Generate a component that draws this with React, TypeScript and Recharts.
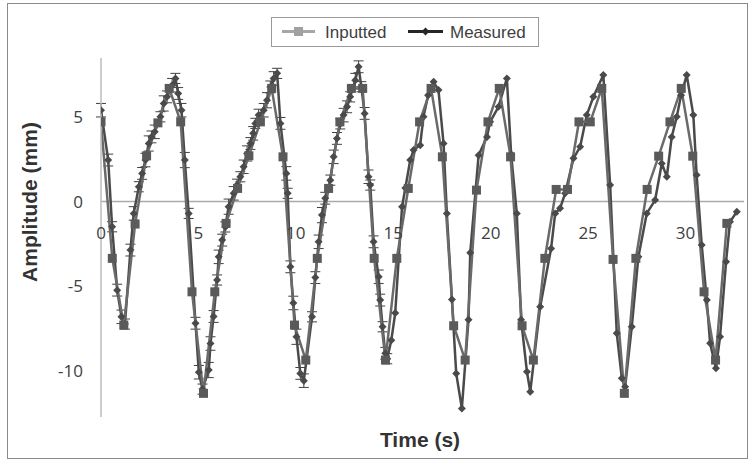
import React from 'react';
import { LineChart, Line, XAxis, YAxis, ReferenceLine, ReferenceDot, ErrorBar } from 'recharts';

// Inputted series (squares)
const inputTime = [0, 0.58, 1.17, 1.75, 2.34, 2.92, 3.5, 4.09, 4.67, 5.26, 5.84, 6.42, 7.01, 7.59, 8.18, 8.76, 9.34, 9.93, 10.51, 11.1, 11.68, 12.26, 12.85, 13.43, 14.02, 14.6, 15.18, 15.77, 16.35, 16.94, 17.52, 18.1, 18.69, 19.27, 19.86, 20.44, 21.02, 21.61, 22.19, 22.78, 23.36, 23.94, 24.53, 25.11, 25.7, 26.28, 26.86, 27.45, 28.03, 28.62, 29.2, 29.78, 30.37, 30.95, 31.54, 32.12];
const inputAmp = [4.72, -3.36, -7.31, -1.33, 2.71, 4.66, 6.7, 4.72, -5.34, -11.35, -5.34, -1.29, 0.78, 2.71, 4.72, 6.7, 2.65, -7.31, -9.38, -3.36, 0.78, 4.72, 6.7, 6.7, -3.36, -9.38, -3.36, 0.78, 4.72, 6.7, 2.65, -7.35, -9.38, 0.68, 4.72, 6.7, 2.65, -7.35, -9.38, -3.36, 0.72, 0.72, 4.72, 4.72, 6.7, -3.42, -11.35, -3.36, 0.72, 2.69, 4.72, 6.7, 2.69, -5.34, -9.38, -1.29];

// Measured series (diamonds)
const measTime = [0, 0.37, 0.57, 0.83, 1.05, 1.23, 1.51, 1.68, 1.94, 2.11, 2.28, 2.45, 2.59, 2.76, 3.05, 3.22, 3.39, 3.65, 3.82, 3.96, 4.13, 4.3, 4.5, 4.85, 5.02, 5.21, 5.53, 5.62, 5.78, 5.96, 6.04, 6.22, 6.38, 6.55, 6.81, 6.98, 7.15, 7.32, 7.5, 7.67, 7.81, 7.92, 8.09, 8.35, 8.52, 8.69, 8.86, 9.04, 9.21, 9.51, 9.58, 9.72, 9.87, 10.03, 10.23, 10.41, 10.83, 11.0, 11.17, 11.34, 11.51, 11.77, 11.94, 12.11, 12.28, 12.45, 12.63, 12.79, 13.05, 13.22, 13.36, 13.53, 13.73, 13.82, 13.99, 14.25, 14.33, 14.45, 14.59, 14.69, 14.9, 15.1, 15.45, 15.62, 15.87, 16.04, 16.38, 16.55, 16.79, 17.07, 17.32, 17.58, 17.75, 18.01, 18.23, 18.52, 18.86, 18.95, 19.38, 19.81, 19.97, 20.4, 20.83, 21.05, 21.34, 21.56, 21.86, 22.03, 22.54, 23.1, 23.31, 23.56, 23.82, 24.25, 24.59, 24.93, 25.27, 25.78, 26.13, 26.47, 26.73, 26.9, 27.24, 27.58, 28.01, 28.44, 28.78, 29.04, 29.29, 29.55, 29.77, 30.06, 30.4, 30.57, 30.83, 31.09, 31.26, 31.56, 31.77, 32.08, 32.28, 32.63];
const measAmp = [5.41, 2.46, -1.49, -5.24, -6.82, -7.25, -2.87, -0.7, 0.88, 1.67, 2.46, 3.44, 3.83, 4.13, 5.02, 5.81, 6.2, 6.89, 7.29, 6.4, 5.41, 2.46, -0.7, -7.2, -10.1, -11.1, -9.97, -8.4, -6.8, -4.64, -3.27, -2.28, -1.5, -0.3, 0.49, 0.98, 1.47, 2.06, 2.85, 3.44, 4.04, 4.63, 5.12, 5.41, 6.0, 6.79, 7.29, 7.59, 4.63, 1.67, 0.49, -3.86, -6.0, -8.0, -10.17, -10.6, -6.82, -4.5, -2.38, -0.8, 0.2, 1.27, 2.65, 3.74, 4.6, 5.12, 5.61, 6.2, 7.19, 7.98, 6.8, 5.22, 1.47, 0.98, -2.38, -4.45, -5.83, -7.41, -8.98, -9.3, -8.2, -6.6, -0.3, 0.8, 2.46, 3.05, 3.34, 5.02, 6.3, 7.09, 6.6, 3.44, -0.7, -5.79, -10.17, -12.24, -7.0, -3.03, 2.75, 3.83, 4.72, 5.61, 7.29, 2.8, -0.7, -7.0, -10.07, -11.25, -6.22, -2.77, -0.7, -0.4, 0.49, 2.56, 3.24, 5.12, 6.2, 7.49, 0.98, -7.8, -10.46, -10.96, -7.41, -3.27, -0.7, 0.09, 2.26, 1.47, 3.83, 5.02, 6.3, 7.49, 5.12, 1.57, -2.57, -5.83, -8.39, -9.87, -8.0, -3.56, -1.2, -0.6];
const measErr = [0.4, 0.35, 0.3, 0.35, 0.4, 0.3, 0.35, 0.4, 0.3, 0.35, 0.4, 0.45, 0.35, 0.4, 0.3, 0.45, 0.35, 0.4, 0.3, 0.35, 0.4, 0.45, 0.3, 0.35, 0.4, 0.3, 0.45, 0.4, 0.35, 0.3, 0.4, 0.35, 0.3, 0.45, 0.4, 0.35, 0.3, 0.4, 0.45, 0.35, 0.4, 0.3, 0.35, 0.4, 0.45, 0.35, 0.4, 0.3, 0.35, 0.4, 0.3, 0.35, 0.4, 0.45, 0.35, 0.4, 0.3, 0.35, 0.4, 0.45, 0.35, 0.3, 0.4, 0.35, 0.3, 0.4, 0.35, 0.3, 0.4, 0.35, 0.3, 0.35, 0.4, 0.3, 0.35, 0.4, 0.35, 0.3, 0.35, 0.3];

const yTicks = [-10, -5, 0, 5];
const xTickValues = [0, 5, 10, 15, 20, 25, 30];

const inputData = inputTime.map((t, i) => ({ t, v: inputAmp[i] }));
const measData = measTime.map((t, i) => ({ t, v: measAmp[i], e: measErr[i] }));

const SquareDot = (p: any) => (
  <rect key={`sq-${p.index}`} x={p.cx - 4.5} y={p.cy - 4.5} width={9} height={9} fill="#5a5a5a" />
);
const DiamondDot = (p: any) => (
  <path
    key={`dm-${p.index}`}
    d={`M${p.cx},${p.cy - 4} L${p.cx + 4},${p.cy} L${p.cx},${p.cy + 4} L${p.cx - 4},${p.cy} Z`}
    fill="#4a4a4a"
  />
);

const XLabel = (v: number) => (p: any) => (
  <text
    x={p.cx}
    y={p.cy + 37}
    textAnchor="middle"
    fontSize={17}
    fontFamily="'Open Sans', sans-serif"
    fill="#404040"
  >
    {v}
  </text>
);

export default function App() {
  return (
    <div style={{ position: 'fixed', left: 0, top: 0, width: 752, height: 461, background: '#fff' }}>
      <div
        style={{
          position: 'absolute',
          left: 7,
          top: 3,
          width: 741,
          height: 456,
          border: '1px solid #8a8a8a',
          boxSizing: 'border-box',
        }}
      />
      <div style={{ position: 'absolute', left: 0, top: 0 }}>
        <LineChart width={752} height={461} margin={{ top: 58, right: 8, bottom: 44, left: 0 }}>
          <XAxis type="number" dataKey="t" domain={[0, 33]} hide allowDataOverflow />
          <YAxis
            type="number"
            domain={[-12.75, 8.5]}
            ticks={yTicks}
            width={101}
            allowDataOverflow
            axisLine={{ stroke: '#bdbdbd', strokeWidth: 1.5 }}
            tickLine={false}
            tickSize={6}
            tickMargin={12}
            tick={{ fill: '#404040', fontSize: 17, fontFamily: "'Open Sans', sans-serif" }}
          />
          <ReferenceLine y={0} stroke="#aaaaaa" strokeWidth={1.5} />
          {xTickValues.map((v) => (
            <ReferenceDot key={`xl-${v}`} x={v} y={0} r={0} shape={XLabel(v)} />
          ))}
          <Line
            data={measData}
            dataKey="v"
            type="linear"
            stroke="#4a4a4a"
            strokeWidth={2.5}
            dot={DiamondDot}
            activeDot={false}
            isAnimationActive={false}
          >
            <ErrorBar dataKey="e" width={5} strokeWidth={1} stroke="#404040" direction="y" isAnimationActive={false} />
          </Line>
          <Line
            data={inputData}
            dataKey="v"
            type="linear"
            stroke="#6a6a6a"
            strokeWidth={2.5}
            dot={SquareDot}
            activeDot={false}
            isAnimationActive={false}
          />
        </LineChart>
      </div>
      <svg width={752} height={461} style={{ position: 'absolute', left: 0, top: 0, pointerEvents: 'none' }}>
        <text
          x={29}
          y={202}
          transform="rotate(-90, 29, 202)"
          textAnchor="middle"
          dominantBaseline="central"
          fontSize={21}
          fontWeight="bold"
          fontFamily="'Liberation Sans', Arial, sans-serif"
          fill="#333"
        >
          Amplitude (mm)
        </text>
        <text
          x={420}
          y={447}
          textAnchor="middle"
          fontSize={21}
          fontWeight="bold"
          fontFamily="'Liberation Sans', Arial, sans-serif"
          fill="#333"
        >
          Time (s)
        </text>
        <rect x={271.5} y={17.5} width={267} height={29} fill="#fff" stroke="#9a9a9a" strokeWidth={1} />
        <line x1={282} y1={31.5} x2={315} y2={31.5} stroke="#a6a6a6" strokeWidth={3} />
        <rect x={294} y={27} width={9} height={9} fill="#a0a0a0" />
        <text x={325} y={38} fontSize={17} fontFamily="'Liberation Sans', Arial, sans-serif" fill="#404040">
          Inputted
        </text>
        <line x1={408} y1={31.5} x2={443} y2={31.5} stroke="#262626" strokeWidth={3} />
        <path d="M425.5,27.5 L429.5,31.5 L425.5,35.5 L421.5,31.5 Z" fill="#262626" />
        <text x={450} y={38} fontSize={17} fontFamily="'Liberation Sans', Arial, sans-serif" fill="#404040">
          Measured
        </text>
      </svg>
    </div>
  );
}
